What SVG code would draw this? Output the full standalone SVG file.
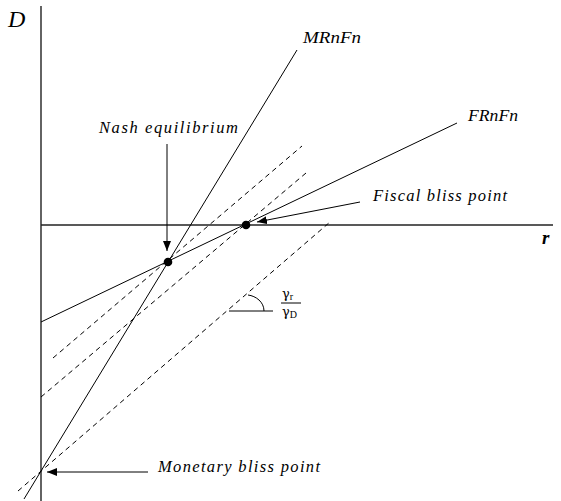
<svg xmlns="http://www.w3.org/2000/svg" width="561" height="501" viewBox="0 0 561 501">
  <style>
    .axis { stroke: #222; stroke-width: 1.4; fill: none; }
    .line { stroke: #000; stroke-width: 1; fill: none; }
    .dash { stroke: #000; stroke-width: 1; fill: none; stroke-dasharray: 5 4; }
    .arrow { stroke: #000; stroke-width: 1; fill: none; marker-end: url(#ah); }
    .lbl { font-family: "Liberation Serif", "Times New Roman", serif; font-style: italic; font-size: 16.5px; fill: #000; }
    .math { font-family: "Liberation Serif", "Times New Roman", serif; fill: #000; }
    .greek { font-family: "DejaVu Serif", "Liberation Serif", serif; fill: #000; }
    .dot { fill: #000; }
  </style>
  <defs>
    <marker id="ah" viewBox="0 0 10 8" refX="10" refY="4" markerWidth="10" markerHeight="8" markerUnits="userSpaceOnUse" orient="auto">
      <path d="M0,0 L10,4 L0,8 Z" fill="#000"/>
    </marker>
  </defs>

  <g id="axes">
    <line class="axis" x1="41" y1="6" x2="41" y2="501"/>
    <line class="axis" x1="41" y1="225" x2="553" y2="225"/>
    <text class="math" x="8" y="27" font-size="24" font-style="italic">D</text>
    <text class="math" x="542" y="244" font-size="19" font-style="italic" font-weight="bold">r</text>
  </g>

  <g id="connectors">
    <line id="mrnfn-line" class="line" x1="24" y1="499" x2="297" y2="50"/>
    <line id="frnfn-line" class="line" x1="41" y1="322" x2="457" y2="123"/>
    <line class="dash" x1="53" y1="358" x2="302" y2="146"/>
    <line class="dash" x1="41" y1="397" x2="306" y2="173"/>
    <line class="dash" x1="18" y1="491" x2="330" y2="222"/>
    <line class="arrow" x1="167" y1="144" x2="167" y2="251"/>
    <line class="arrow" x1="360" y1="202" x2="257" y2="222"/>
    <line class="arrow" x1="148" y1="472" x2="47" y2="472"/>
  </g>

  <g id="MRnFn">
    <text class="lbl" x="303" y="43" textLength="58" lengthAdjust="spacingAndGlyphs" font-size="17.5">MRnFn</text>
  </g>
  <g id="FRnFn">
    <text class="lbl" x="468" y="121" textLength="50" lengthAdjust="spacingAndGlyphs" font-size="17.5">FRnFn</text>
  </g>
  <g id="nash">
    <text class="lbl" x="99" y="133" textLength="139" lengthAdjust="spacing">Nash equilibrium</text>
    <circle class="dot" cx="168" cy="262" r="4.3"/>
  </g>
  <g id="fiscal">
    <text class="lbl" x="373" y="201" textLength="134" lengthAdjust="spacing">Fiscal bliss point</text>
    <circle class="dot" cx="246" cy="225" r="4.3"/>
  </g>
  <g id="monetary">
    <text class="lbl" x="158" y="472" textLength="162" lengthAdjust="spacing">Monetary bliss point</text>
  </g>
  <g id="slope">
    <line class="line" x1="229" y1="311" x2="273" y2="311"/>
    <path class="line" d="M248,295 C256,296 264,302 264,311"/>
    <text class="greek" x="282" y="298" font-size="13">γ<tspan class="math" font-size="10" dy="2">r</tspan></text>
    <line class="line" x1="281" y1="303" x2="301" y2="303"/>
    <text class="greek" x="282" y="316" font-size="13">γ<tspan class="math" font-size="10" dy="2">D</tspan></text>
  </g>
</svg>
